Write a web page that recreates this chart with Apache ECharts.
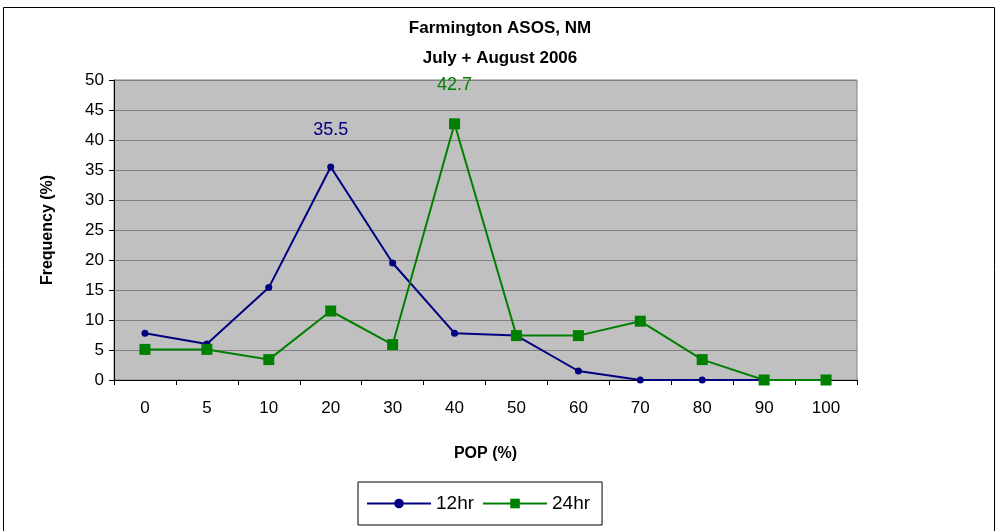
<!DOCTYPE html>
<html>
<head>
<meta charset="utf-8">
<script src="https://cdn.jsdelivr.net/npm/echarts@6/dist/echarts.min.js"></script>
<style>
    html, body { margin: 0; padding: 0; background: #fff; }
    #chart { width: 1000px; height: 531px; }
</style>
</head>
<body>
<div id="chart"></div>
<script>
// POP categories (%)
const popCategories = ['0', '5', '10', '20', '30', '40', '50', '60', '70', '80', '90', '100'];

// frequency (%) for each forecast period
const freq12hr = [7.8, 6.0, 15.4, 35.5, 19.5, 7.8, 7.4, 1.5, 0, 0, 0, 0];
const freq24hr = [5.1, 5.1, 3.4, 11.5, 5.9, 42.7, 7.4, 7.4, 9.8, 3.4, 0, 0];

// index of the labelled peak in each series
const peak12hr = 3;
const peak24hr = 5;

const chart = echarts.init(document.getElementById('chart'));

// put a data label on one point only
function withPeakLabel(values, peakIdx, color) {
    return values.map((v, i) => i === peakIdx
        ? { value: v, label: { show: true, position: 'top', distance: 24, color: color, fontSize: 18, fontFamily: 'Arial' } }
        : v);
}

const option = {
    animation: false,
    textStyle: { fontFamily: 'Arial, Liberation Sans, sans-serif' },
    title: {
        text: 'Farmington ASOS, NM\nJuly + August 2006',
        left: 'center',
        top: 8,
        textStyle: { fontSize: 17, fontWeight: 'bold', color: '#000', lineHeight: 30 }
    },
    graphic: [{
        type: 'rect',
        shape: { x: 3.5, y: 7.5, width: 991, height: 530 },
        style: { fill: 'none', stroke: '#000', lineWidth: 1 },
        silent: true
    }],
    legend: {
        data: ['12hr', '24hr'],
        bottom: 6,
        left: 358,
        itemWidth: 64,
        itemHeight: 12,
        itemGap: 8,
        padding: [12, 12, 12, 8],
        borderColor: '#000',
        borderWidth: 1,
        textStyle: { fontSize: 19, color: '#000' }
    },
    grid: {
        left: 114,
        right: 143,
        top: 80,
        bottom: 151,
        show: true,
        backgroundColor: '#c0c0c0',
        borderColor: '#808080',
        borderWidth: 1
    },
    xAxis: {
        type: 'category',
        data: popCategories,
        boundaryGap: true,
        name: 'POP (%)',
        nameLocation: 'middle',
        nameGap: 66,
        nameTextStyle: { fontSize: 16, fontWeight: 'bold', color: '#000' },
        axisLine: { lineStyle: { color: '#000', width: 1 } },
        axisTick: { show: true, length: 5, lineStyle: { color: '#000' } },
        axisLabel: { fontSize: 17, color: '#000', margin: 20 },
        splitLine: { show: false }
    },
    yAxis: {
        type: 'value',
        min: 0,
        max: 50,
        interval: 5,
        name: 'Frequency (%)',
        nameLocation: 'middle',
        nameGap: 58,
        nameTextStyle: { fontSize: 16, fontWeight: 'bold', color: '#000' },
        axisLine: { show: true, lineStyle: { color: '#000', width: 1 } },
        axisTick: { show: true, length: 5, lineStyle: { color: '#000' } },
        axisLabel: { fontSize: 17, color: '#000', margin: 10 },
        splitLine: { lineStyle: { color: '#808080', width: 1 } }
    },
    series: [
        {
            name: '12hr',
            type: 'line',
            data: withPeakLabel(freq12hr, peak12hr, '#000080'),
            symbol: 'circle',
            symbolSize: 7,
            lineStyle: { color: '#000080', width: 2 },
            itemStyle: { color: '#000080' }
        },
        {
            name: '24hr',
            type: 'line',
            data: withPeakLabel(freq24hr, peak24hr, '#008000'),
            symbol: 'rect',
            symbolSize: 11,
            lineStyle: { color: '#008000', width: 2 },
            itemStyle: { color: '#008000' }
        }
    ]
};

chart.setOption(option);
</script>
</body>
</html>
